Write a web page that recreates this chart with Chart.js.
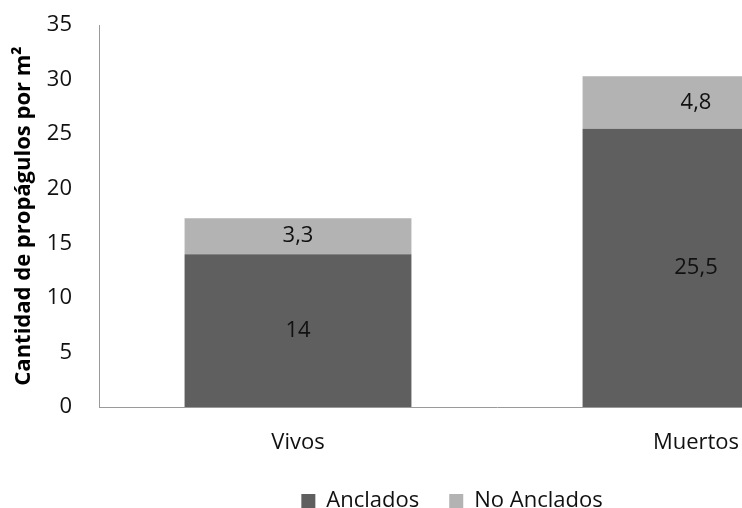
<!DOCTYPE html>
<html>
<head>
<meta charset="utf-8">
<script src="https://cdn.jsdelivr.net/npm/chart.js@4"></script>
<style>
  html, body { margin: 0; padding: 0; background: #ffffff; overflow: hidden; }
  #wrap { position: relative; width: 895px; height: 508px; }
</style>
</head>
<body>
<div id="wrap"><canvas id="c"></canvas></div>
<script>
const categories = ['Vivos', 'Muertos'];
const seriesNames = ['Anclados', 'No Anclados'];
const anclados = [14, 25.5];
const noAnclados = [3.3, 4.8];
const yTicks = [0, 5, 10, 15, 20, 25, 30, 35];
const yTitle = 'Cantidad de propágulos por m²';

const FONT = "'Open Sans', 'Noto Sans', sans-serif";

const valueLabels = {
  id: 'valueLabels',
  afterDatasetsDraw(chart) {
    const ctx = chart.ctx;
    ctx.save();
    ctx.font = '22px ' + FONT;
    ctx.fillStyle = '#111111';
    ctx.textAlign = 'center';
    ctx.textBaseline = 'middle';
    chart.data.datasets.forEach((ds, di) => {
      const meta = chart.getDatasetMeta(di);
      meta.data.forEach((el, i) => {
        const v = ds.data[i];
        const y = (el.y + el.base) / 2;
        ctx.fillText(String(v).replace('.', ','), el.x, y);
      });
    });
    ctx.restore();
  }
};

new Chart(document.getElementById('c'), {
  type: 'bar',
  data: {
    labels: categories,
    datasets: [
      { label: seriesNames[0], data: anclados, backgroundColor: '#5f5f5f', borderWidth: 0,
        categoryPercentage: 1, barPercentage: 0.57 },
      { label: seriesNames[1], data: noAnclados, backgroundColor: '#b3b3b3', borderWidth: 0,
        categoryPercentage: 1, barPercentage: 0.57 }
    ]
  },
  options: {
    responsive: true,
    maintainAspectRatio: false,
    animation: false,
    layout: { padding: { left: 9, right: 0, top: 25, bottom: -14 } },
    plugins: {
      tooltip: { enabled: false },
      legend: {
        position: 'bottom',
        labels: {
          boxWidth: 14, boxHeight: 14, padding: 30,
          color: '#111111',
          font: { family: FONT, size: 22 }
        }
      }
    },
    scales: {
      x: {
        stacked: true,
        grid: { display: false, drawTicks: false },
        border: { display: true, color: '#9a9a9a', width: 1 },
        ticks: { color: '#111111', font: { family: FONT, size: 22 }, padding: 23 },
        afterFit(scale) { scale.height = 53; }
      },
      y: {
        stacked: true,
        min: 0, max: 35,
        grid: { display: false, drawTicks: false },
        border: { display: true, color: '#9a9a9a', width: 1 },
        afterBuildTicks(scale) { scale.ticks = yTicks.map(v => ({ value: v })); },
        ticks: { color: '#111111', font: { family: FONT, size: 22 }, padding: 27 },
        title: {
          display: true, text: yTitle, color: '#000000',
          font: { family: FONT, size: 22, weight: 'bold' },
          padding: { top: 2, bottom: 0 }
        },
        afterFit(scale) {
          scale.width = 90;
          scale.paddingTop = 0;
          scale.paddingBottom = 0;
        }
      }
    }
  },
  plugins: [valueLabels]
});
</script>
</body>
</html>
